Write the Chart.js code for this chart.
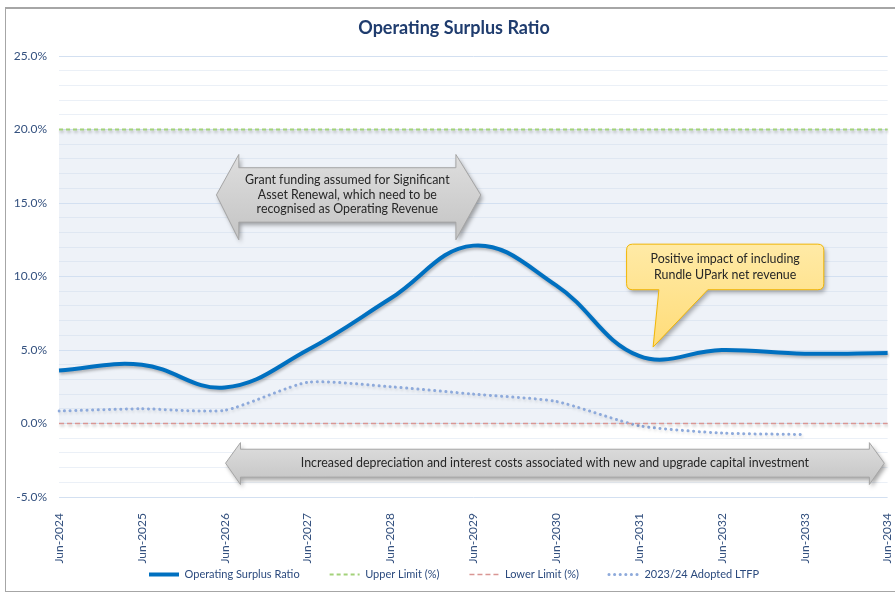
<!DOCTYPE html>
<html lang="en">
<head>
  <meta charset="UTF-8" />
  <title>Operating Surplus Ratio</title>
  <style>
    * { margin: 0; padding: 0; box-sizing: border-box; }
    html, body {
      width: 895px;
      height: 593px;
      overflow: hidden;
      background: #ffffff;
      font-family: 'Lato', sans-serif;
    }
    /* outer chart frame, runs past the right edge like the original export */
    .frame {
      position: absolute;
      left: 5px;
      top: 7px;
      width: 960px;
      height: 585px;
      border: 1px solid #a6a6a6;
      border-top: 2px solid #a6a6a6;
      border-right: none;
    }
    .chart-box {
      position: absolute;
      left: 0;
      top: 0;
      width: 910px;
      height: 593px;
    }
  </style>
</head>
<body>
  <div class="frame"></div>
  <div class="chart-box">
    <canvas id="osrChart" width="910" height="593"></canvas>
  </div>
  <script src="https://cdn.jsdelivr.net/npm/chart.js"></script>
  <script>
    // ---- data ----
    const categories = ["Jun-2024", "Jun-2025", "Jun-2026", "Jun-2027", "Jun-2028", "Jun-2029",
                        "Jun-2030", "Jun-2031", "Jun-2032", "Jun-2033", "Jun-2034"];
    const operatingSurplusRatio = [3.6, 4.0, 2.45, 5.0, 8.5, 12.1, 9.4, 4.6, 5.0, 4.75, 4.8];
    const upperLimit = [20, 20, 20, 20, 20, 20, 20, 20, 20, 20, 20];
    const lowerLimit = [0, 0, 0, 0, 0, 0, 0, 0, 0, 0, 0];
    const adoptedLTFP = [0.85, 1.0, 0.9, 2.8, 2.5, 2.0, 1.5, -0.15, -0.65, -0.75, null];
    const yMajorTicks = [-5, 0, 5, 10, 15, 20, 25];

    // ---- annotation shapes, in axis units (x = category index, y = %) ----
    const grantArrow = {
      tipLeft: 1.90, neckLeft: 2.17, neckRight: 4.79, tipRight: 5.09,
      headTop: 18.3, bodyTop: 17.4, bodyBottom: 13.7, headBottom: 12.5,
      lines: ["Grant funding assumed for Significant",
              "Asset Renewal, which need to be",
              "recognised as Operating Revenue"]
    };
    const costArrow = {
      tipLeft: 2.01, neckLeft: 2.19, neckRight: 9.78, tipRight: 9.96,
      headTop: -1.3, bodyTop: -1.75, bodyBottom: -3.65, headBottom: -4.15,
      lines: ["Increased depreciation and interest costs associated with new and upgrade capital investment"]
    };
    const uparkCallout = {
      left: 6.85, right: 9.23, top: 12.2, bottom: 9.1,
      baseLeft: 7.24, baseRight: 7.83, tipX: 7.17, tipY: 5.2,
      lines: ["Positive impact of including", "Rundle UPark net revenue"]
    };

    const noteFont = "12.4px Lato";
    const noteColor = "#262626";

    function drawLines(ctx, lines, cx, cy, lh) {
      ctx.fillStyle = noteColor;
      ctx.font = noteFont;
      ctx.textAlign = "center";
      ctx.textBaseline = "middle";
      const start = cy - (lines.length - 1) * lh / 2;
      lines.forEach((t, i) => ctx.fillText(t, cx, start + i * lh));
    }

    function drawDoubleArrow(ctx, xs, ys, a) {
      const xl = xs.getPixelForValue(a.tipLeft), nl = xs.getPixelForValue(a.neckLeft);
      const nr = xs.getPixelForValue(a.neckRight), xr = xs.getPixelForValue(a.tipRight);
      const ht = ys.getPixelForValue(a.headTop), bt = ys.getPixelForValue(a.bodyTop);
      const bb = ys.getPixelForValue(a.bodyBottom), hb = ys.getPixelForValue(a.headBottom);
      const yc = (bt + bb) / 2;
      ctx.save();
      ctx.beginPath();
      ctx.moveTo(xl, yc);
      ctx.lineTo(nl, ht); ctx.lineTo(nl, bt); ctx.lineTo(nr, bt); ctx.lineTo(nr, ht);
      ctx.lineTo(xr, yc);
      ctx.lineTo(nr, hb); ctx.lineTo(nr, bb); ctx.lineTo(nl, bb); ctx.lineTo(nl, hb);
      ctx.closePath();
      const g = ctx.createLinearGradient(0, ht, 0, hb);
      g.addColorStop(0, "#dedede");
      g.addColorStop(1, "#c4c4c4");
      ctx.fillStyle = g;
      ctx.shadowColor = "rgba(0,0,0,0.35)";
      ctx.shadowBlur = 4;
      ctx.shadowOffsetX = 2;
      ctx.shadowOffsetY = 3;
      ctx.fill();
      ctx.shadowColor = "transparent";
      ctx.strokeStyle = "#a5a5a5";
      ctx.lineWidth = 1;
      ctx.stroke();
      drawLines(ctx, a.lines, (nl + nr) / 2, yc, 14.5);
      ctx.restore();
    }

    function drawCallout(ctx, xs, ys, c) {
      const l = xs.getPixelForValue(c.left), r = xs.getPixelForValue(c.right);
      const t = ys.getPixelForValue(c.top), b = ys.getPixelForValue(c.bottom);
      const bl = xs.getPixelForValue(c.baseLeft), br = xs.getPixelForValue(c.baseRight);
      const tx = xs.getPixelForValue(c.tipX), ty = ys.getPixelForValue(c.tipY);
      const rad = 6;
      ctx.save();
      ctx.beginPath();
      ctx.moveTo(l + rad, t);
      ctx.lineTo(r - rad, t);
      ctx.quadraticCurveTo(r, t, r, t + rad);
      ctx.lineTo(r, b - rad);
      ctx.quadraticCurveTo(r, b, r - rad, b);
      ctx.lineTo(br, b);
      ctx.lineTo(tx, ty);
      ctx.lineTo(bl, b);
      ctx.lineTo(l + rad, b);
      ctx.quadraticCurveTo(l, b, l, b - rad);
      ctx.lineTo(l, t + rad);
      ctx.quadraticCurveTo(l, t, l + rad, t);
      ctx.closePath();
      const g = ctx.createLinearGradient(0, t, 0, ty);
      g.addColorStop(0, "#ffeaa6");
      g.addColorStop(1, "#ffdc78");
      ctx.fillStyle = g;
      ctx.shadowColor = "rgba(0,0,0,0.3)";
      ctx.shadowBlur = 4;
      ctx.shadowOffsetX = 2;
      ctx.shadowOffsetY = 3;
      ctx.fill();
      ctx.shadowColor = "transparent";
      ctx.strokeStyle = "#f2b705";
      ctx.lineWidth = 1;
      ctx.stroke();
      drawLines(ctx, c.lines, (l + r) / 2, (t + b) / 2, 16);
      ctx.restore();
    }

    const notesPlugin = {
      id: "notes",
      afterDatasetsDraw(chart) {
        const { ctx, scales } = chart;
        drawDoubleArrow(ctx, scales.x, scales.y, grantArrow);
        drawDoubleArrow(ctx, scales.x, scales.y, costArrow);
        drawCallout(ctx, scales.x, scales.y, uparkCallout);
      }
    };

    // soft drop shadow under the series lines (Excel look)
    const shadowPlugin = {
      id: "lineShadow",
      beforeDatasetDraw(chart, args) {
        const ctx = chart.ctx;
        ctx.save();
        ctx.shadowColor = args.index === 3 ? "rgba(0,0,0,0.12)" : "rgba(0,0,0,0.28)";
        ctx.shadowBlur = 3;
        ctx.shadowOffsetX = 1;
        ctx.shadowOffsetY = 2;
      },
      afterDatasetDraw(chart) {
        chart.ctx.restore();
      }
    };

    // axis boxes are squeezed on purpose; let their labels spill out unclipped
    function noLabelClip(scale) {
      scale._computeLabelArea = () => null;
    }

    // legend samples should keep each line's dash, width and cap
    function legendLabels(chart) {
      const items = Chart.defaults.plugins.legend.labels.generateLabels(chart);
      return items.map(item => {
        const ds = chart.data.datasets[item.datasetIndex];
        item.strokeStyle = ds.borderColor;
        item.lineWidth = ds.datasetIndex === 0 ? 4 : ds.borderWidth;
        item.lineDash = ds.borderDash || [];
        item.lineCap = ds.borderCapStyle || "butt";
        item.pointStyle = "line";
        return item;
      });
    }

    const tickColor = "#34517f";

    new Chart(document.getElementById("osrChart").getContext("2d"), {
      type: "line",
      data: {
        labels: categories,
        datasets: [
          {
            label: "Operating Surplus Ratio",
            data: operatingSurplusRatio,
            borderColor: "#0070c0",
            borderWidth: 4,
            pointRadius: 0,
            tension: 0.4,
            fill: false
          },
          {
            label: "Upper Limit (%)",
            data: upperLimit,
            borderColor: "#a3d27a",
            borderWidth: 2,
            borderDash: [4, 3],
            pointRadius: 0,
            backgroundColor: "#eef2f8",
            fill: "+1"
          },
          {
            label: "Lower Limit (%)",
            data: lowerLimit,
            borderColor: "#d99694",
            borderWidth: 1.5,
            borderDash: [5, 3],
            pointRadius: 0,
            fill: false
          },
          {
            label: "2023/24 Adopted LTFP",
            data: adoptedLTFP,
            borderColor: "#8eaadb",
            borderWidth: 3,
            borderDash: [0.1, 5.5],
            borderCapStyle: "round",
            pointRadius: 0,
            tension: 0.2,
            fill: false
          }
        ]
      },
      options: {
        responsive: false,
        animation: false,
        devicePixelRatio: 1,
        events: [],
        layout: { padding: { left: 19, right: 21, top: 0, bottom: 3 } },
        font: { family: "Lato" },
        scales: {
          x: {
            offset: false,
            grid: { display: false },
            border: { display: false },
            ticks: {
              autoSkip: false,
              minRotation: 90,
              maxRotation: 90,
              padding: 8,
              color: tickColor,
              font: { family: "Lato", size: 12 }
            },
            afterFit(scale) { scale.height = 42; noLabelClip(scale); }
          },
          y: {
            min: -5,
            max: 25,
            border: { display: false },
            grid: {
              drawTicks: false,
              lineWidth: 1,
              color(ctx) {
                if (!ctx.tick) return "transparent";
                return yMajorTicks.includes(ctx.tick.value) ? "#d3e0f1" : "rgba(190,205,230,0.3)";
              }
            },
            ticks: {
              stepSize: 1,
              autoSkip: false,
              padding: 12,
              color: tickColor,
              font: { family: "Lato", size: 12 },
              callback(value) {
                return yMajorTicks.includes(value) ? value.toFixed(1) + "%" : "";
              }
            },
            afterFit(scale) { scale.width = 40; noLabelClip(scale); }
          }
        },
        plugins: {
          filler: { drawTime: "beforeDraw" },
          title: {
            display: true,
            text: "Operating Surplus Ratio",
            color: "#1f3c6e",
            font: { family: "Lato", size: 18, weight: "bold" },
            padding: { top: 17, bottom: 17.4 }
          },
          legend: {
            display: true,
            position: "bottom",
            labels: {
              usePointStyle: true,
              pointStyle: "line",
              pointStyleWidth: 30,
              padding: 30,
              color: "#2b4a7e",
              font: { family: "Lato", size: 11 },
              generateLabels: legendLabels
            }
          },
          tooltip: { enabled: false }
        }
      },
      plugins: [shadowPlugin, notesPlugin]
    });
  </script>
</body>
</html>
